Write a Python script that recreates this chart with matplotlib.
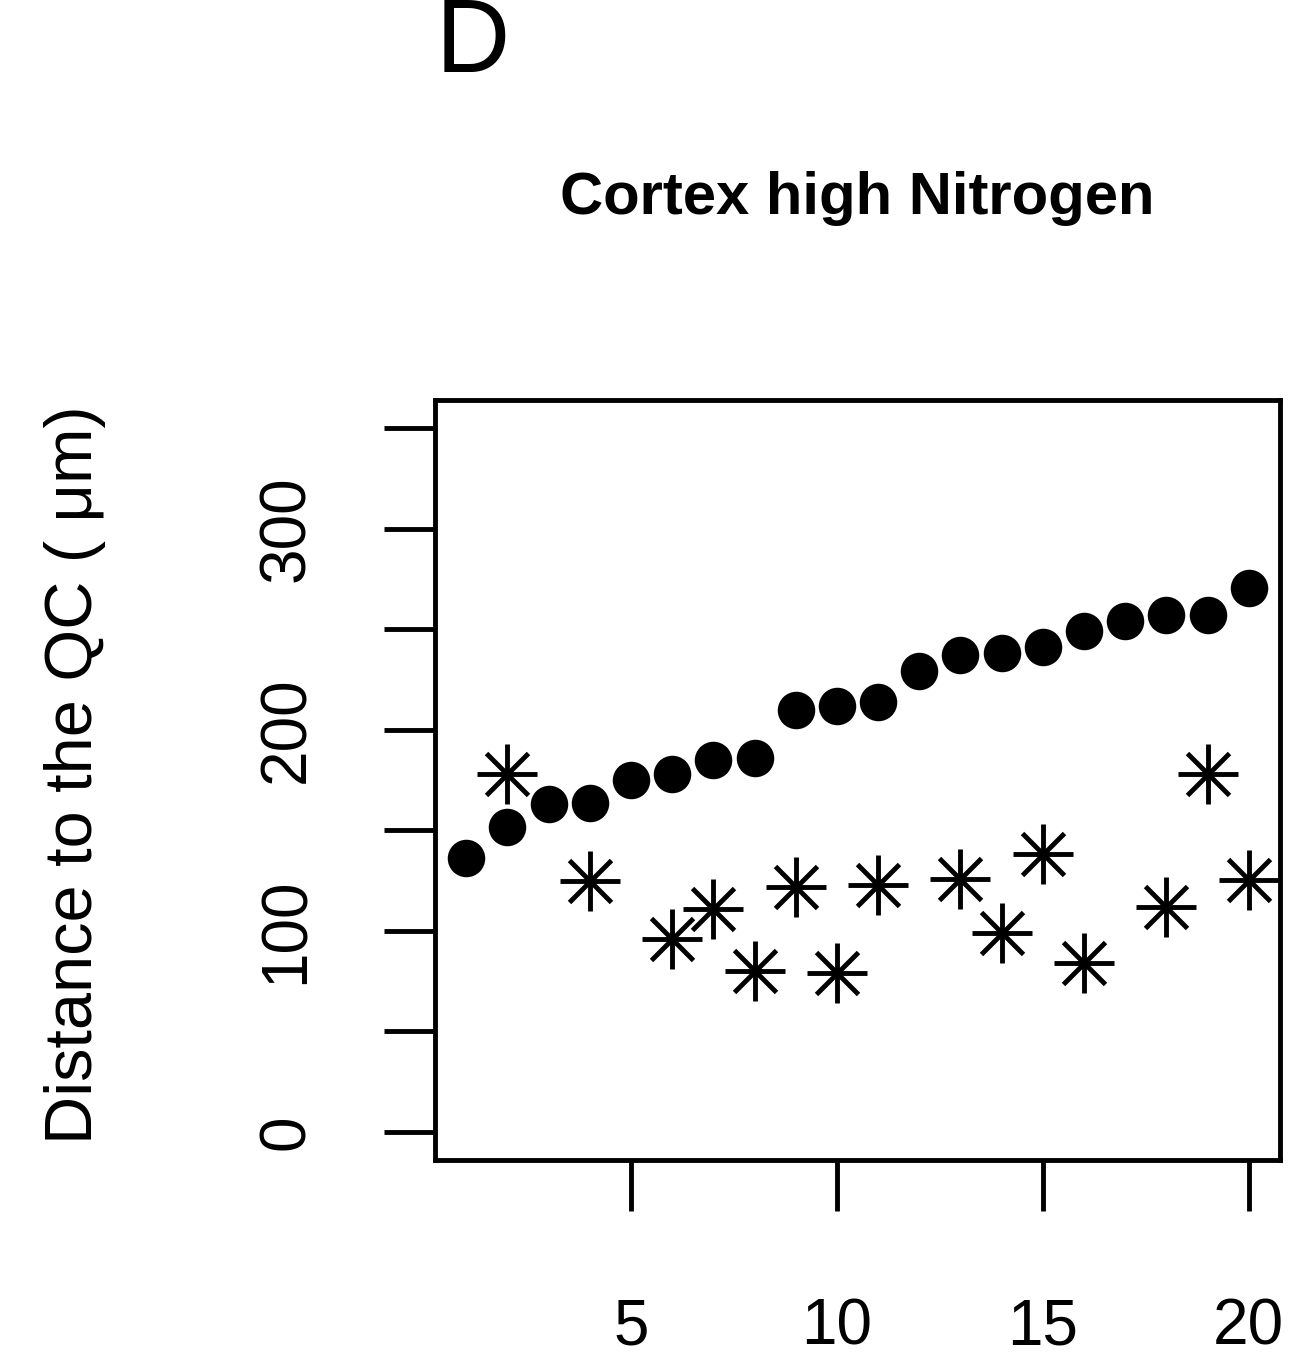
import matplotlib
matplotlib.use("Agg")
import matplotlib.pyplot as plt

plt.rcParams['font.family'] = ['Liberation Sans', 'DejaVu Sans']

# Data
x_index = list(range(1, 21))
circle_values = [136, 151.5, 163, 163.5, 175, 178, 185, 186, 210, 212, 214,
                 229, 237, 238, 241, 249, 254, 257, 257, 270.5]
star_x = [2, 4, 6, 7, 8, 9, 10, 11, 13, 14, 15, 16, 18, 19, 20]
star_values = [178, 125, 95.7, 111, 80, 122, 79, 123, 126, 98.7, 138, 84,
               111.6, 178, 125.5]
y_ticks = [0, 50, 100, 150, 200, 250, 300, 350]
y_tick_labels = ["0", "", "100", "", "200", "", "300", ""]
x_ticks = [5, 10, 15, 20]
x_tick_labels = ["5", "10", "15", "20"]

W, H = 1298, 1355
fig = plt.figure(figsize=(W / 100, H / 100), dpi=100)
ax = fig.add_axes([435 / W, 1 - 1160 / H, (1280 - 435) / W, (1160 - 400) / H])

lw = 3.5
ax.plot(x_index, circle_values, linestyle='none', marker='o', markersize=27,
        color='black', markeredgewidth=0)
ax.plot(star_x, star_values, linestyle='none', marker='+', markersize=43,
        color='black', markeredgewidth=lw)
ax.plot(star_x, star_values, linestyle='none', marker='x', markersize=30,
        color='black', markeredgewidth=lw)

ax.set_xlim(0.24, 20.76)
ax.set_ylim(-14, 364)
ax.set_yticks(y_ticks)
ax.set_yticklabels(y_tick_labels, rotation=90, va='center', fontsize=46)
ax.set_xticks(x_ticks)
ax.set_xticklabels(x_tick_labels, fontsize=46)
ax.tick_params(axis='both', direction='out', length=37, width=lw, color='black')
ax.tick_params(axis='y', pad=48)
ax.tick_params(axis='x', pad=62)
for s in ax.spines.values():
    s.set_linewidth(lw)
    s.set_color('black')

fig.text(75 / W, 1 - 775 / H, "Distance to the QC ( \u03bcm)", rotation=90,
         ha='center', va='center', fontsize=48)
fig.text(857 / W, 1 - 198 / H, "Cortex high Nitrogen", ha='center', va='center',
         fontsize=43, fontweight='bold')
fig.text(436 / W, 1 - 72 / H, "D", ha='left', va='baseline', fontsize=74)

fig.savefig("out.png", dpi=100, facecolor='white')
